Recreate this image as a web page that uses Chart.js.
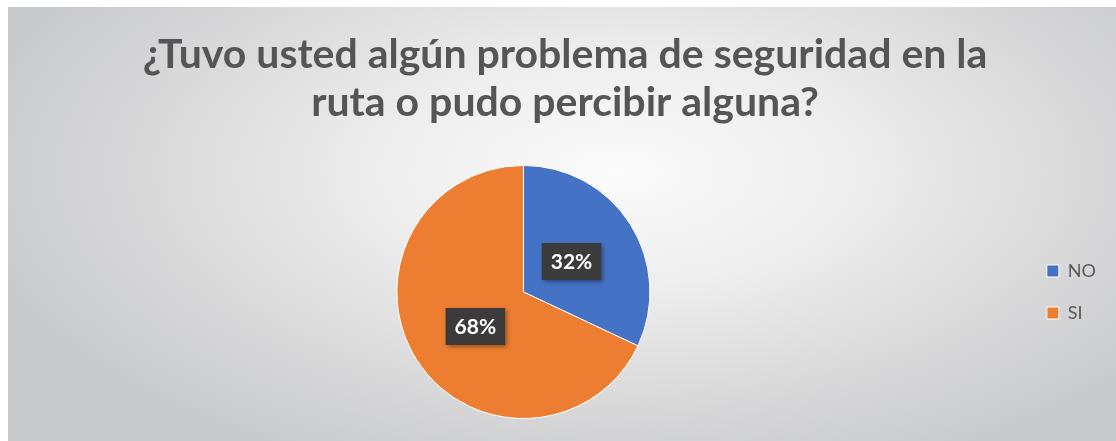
<!DOCTYPE html>
<html>
<head>
<meta charset="utf-8">
<script src="https://cdn.jsdelivr.net/npm/chart.js@4"></script>
<style>
  html, body { margin: 0; padding: 0; background: #fff; }
  #wrap {
    position: absolute; left: 8px; top: 7px; width: 1108px; height: 434px;
    background: radial-gradient(ellipse 60% 75% at 55% 38%, #fbfbfb 0%, #eeeeef 35%, #dcdcdd 65%, #c8c9cb 100%);
  }
  canvas { display: block; }
</style>
</head>
<body>
<div id="wrap"><canvas id="chartSeguridad" width="1108" height="434"></canvas></div>
<script>
const titulo = ["¿Tuvo usted algún problema de seguridad en la", "ruta o pudo percibir alguna?"];
const categorias = ["NO", "SI"];
const porcentajes = [32, 68];
const colores = ["#4472C4", "#ED7D31"];

// etiquetas oscuras sobre cada porción
const etiquetas = {
    id: "etiquetas",
    afterDatasetsDraw(chart) {
        const ctx = chart.ctx;
        chart.getDatasetMeta(0).data.forEach((arc, i) => {
            const mid = (arc.startAngle + arc.endAngle) / 2;
            const r = arc.outerRadius * 0.45;
            const x = arc.x + Math.cos(mid) * r;
            const y = arc.y + Math.sin(mid) * r + (i === 1 ? 4 : 0);
            const txt = porcentajes[i] + "%";
            ctx.save();
            ctx.font = "bold 21px Lato";
            const w = ctx.measureText(txt).width + 18;
            const h = 37;
            ctx.shadowColor = "rgba(0,0,0,0.35)";
            ctx.shadowBlur = 4;
            ctx.shadowOffsetX = 2;
            ctx.shadowOffsetY = 2;
            ctx.fillStyle = "#3b3b3b";
            ctx.fillRect(x - w / 2, y - h / 2, w, h);
            ctx.shadowColor = "transparent";
            ctx.fillStyle = "#fff";
            ctx.textAlign = "center";
            ctx.textBaseline = "middle";
            ctx.fillText(txt, x, y + 1);
            ctx.restore();
        });
    }
};

new Chart(document.getElementById("chartSeguridad"), {
    type: "pie",
    data: {
        labels: categorias,
        datasets: [{
            data: porcentajes,
            backgroundColor: colores,
            borderColor: "#ffffff",
            borderWidth: 1,
        }]
    },
    options: {
        responsive: false,
        animation: false,
        layout: { padding: { left: 16, right: 10, top: 0, bottom: 22 } },
        plugins: {
            title: {
                display: true,
                text: titulo,
                color: "#555555",
                font: { family: "Lato", size: 41, weight: "bold", lineHeight: 1.17 },
                padding: { top: 24, bottom: 38 }
            },
            legend: {
                position: "right",
                fullSize: false,
                labels: {
                    color: "#595959",
                    font: { family: "Lato", size: 18 },
                    boxWidth: 12,
                    boxHeight: 12,
                    padding: 24
                }
            },
            tooltip: { enabled: false }
        }
    },
    plugins: [etiquetas]
});
</script>
</body>
</html>
